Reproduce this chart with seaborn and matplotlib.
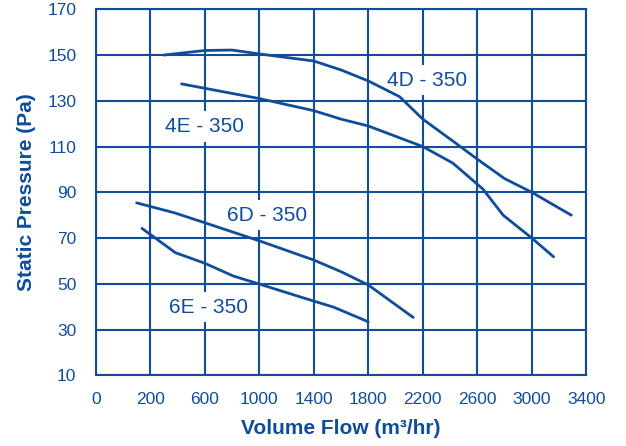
import matplotlib
matplotlib.use("Agg")
import matplotlib.pyplot as plt
import seaborn as sns

# Fan curves (flow in m3/hr, pressure in Pa)
flow_4d = [300, 600, 800, 1000, 1400, 1600, 1800, 2030, 2200, 2430, 2600, 2800, 3000, 3290]
pressure_4d = [150, 152, 152.2, 150.5, 147.4, 143.5, 138.7, 131.8, 122, 112, 104.5, 96, 90, 80]

flow_4e = [430, 1000, 1400, 1600, 1800, 2200, 2420, 2640, 2790, 3000, 3160]
pressure_4e = [137.4, 131, 125.7, 122, 119, 110, 102.8, 91.5, 80, 70, 61.8]

flow_6d = [100, 380, 600, 1000, 1400, 1600, 1800, 2130]
pressure_6d = [85.4, 81, 76.7, 68.8, 60.4, 55.3, 49.5, 35.3]

flow_6e = [140, 385, 600, 810, 1000, 1300, 1550, 1800]
pressure_6e = [74.2, 63.6, 59, 53.4, 49.9, 44.3, 39.7, 33.4]

curve_names = ["4D - 350", "4E - 350", "6D - 350", "6E - 350"]

# the chart's first gridline is labelled 0 although it sits one step (400) left of 200
x_ticks = [-200, 200, 600, 1000, 1400, 1800, 2200, 2600, 3000, 3400]
x_tick_labels = ["0", "200", "600", "1000", "1400", "1800", "2200", "2600", "3000", "3400"]
y_ticks = [10, 30, 50, 70, 90, 110, 130, 150, 170]

sns.set_style("white")
plt.rcParams["font.family"] = ["Liberation Sans", "DejaVu Sans"]

blue = "#0f4d9b"

fig = plt.figure(figsize=(6.26, 4.46), dpi=100)
ax = fig.add_axes([0.1529, 0.1585, 0.7837, 0.8206])

curves = [(flow_4d, pressure_4d), (flow_4e, pressure_4e),
          (flow_6d, pressure_6d), (flow_6e, pressure_6e)]
for flow, pressure in curves:
    sns.lineplot(x=flow, y=pressure, ax=ax, color=blue, linewidth=2,
                 sort=False, estimator=None, zorder=4)

# curve labels sit on white boxes that hide the grid behind them
label_spots = [(2230, 139), (600, 118.8), (1060, 80), (630, 39.8)]
for name, (lx, ly) in zip(curve_names, label_spots):
    ax.text(lx, ly, name, fontsize=15, color=blue, ha="center", va="center", zorder=3,
            bbox=dict(facecolor="white", edgecolor="none", pad=4))

ax.set_xlim(-200, 3400)
ax.set_ylim(10, 170)
ax.set_xticks(x_ticks, x_tick_labels)
ax.set_yticks(y_ticks)

ax.grid(True, color=blue, linewidth=1.5)
for side in ["top", "bottom", "left", "right"]:
    ax.spines[side].set_color(blue)
    ax.spines[side].set_linewidth(1.5)

ax.tick_params(axis="both", length=0, labelsize=12.5, labelcolor=blue)
ax.tick_params(axis="x", pad=12)
ax.tick_params(axis="y", pad=14)

ax.set_xlabel("Volume Flow (m³/hr)", fontsize=15, fontweight="bold", color=blue, labelpad=9)
ax.set_ylabel("Static Pressure (Pa)", fontsize=15, fontweight="bold", color=blue, labelpad=8)

fig.savefig("out.png", dpi=100)
